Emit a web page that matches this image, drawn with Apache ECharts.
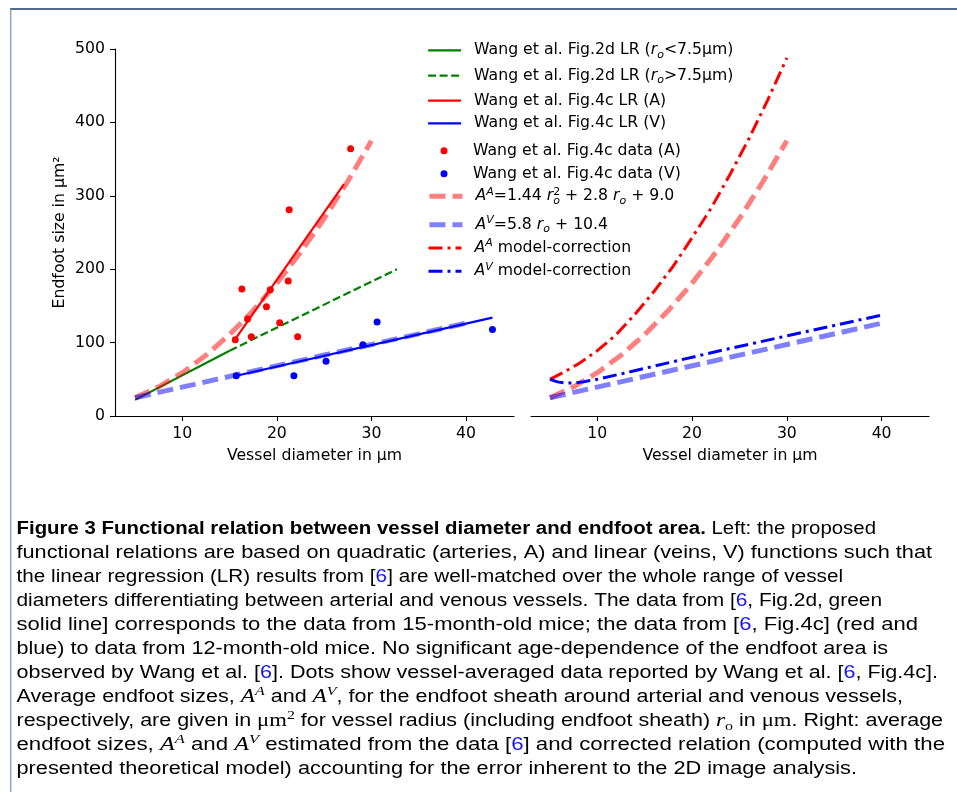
<!DOCTYPE html>
<html><head><meta charset="utf-8">
<script src="https://cdn.jsdelivr.net/npm/echarts@6/dist/echarts.min.js"></script>
<style>html,body{margin:0;padding:0;background:#fff}#c{width:957px;height:792px}</style>
</head><body><div id="c"></div>
<script>
// ---------- data ----------
const xTickValues = [10, 20, 30, 40];
const yTickValues = [0, 100, 200, 300, 400, 500];

// Left panel: Wang et al. linear regressions
const greenSolidX = [5, 15];
const greenSolidY = [22, 89];
const greenDashX = [15, 32.7];
const greenDashY = [89, 200];
const redLRX = [15.5, 27.1];
const redLRY = [103, 316];
const blueLRX = [15.6, 42.8];
const blueLRY = [54.5, 134];

// Wang et al. Fig.4c data points
const redDataX = [27.8, 21.3, 21.2, 19.3, 16.3, 18.9, 16.9, 20.3, 17.3, 22.2, 15.6];
const redDataY = [364, 281, 184, 172, 173, 149, 132, 127, 108, 108, 104];
const blueDataX = [15.7, 21.8, 25.2, 29.1, 30.6, 42.8];
const blueDataY = [55, 55, 74.5, 97, 128, 118];

// Proposed relations
const arterialX = [5, 7.5, 10, 12.5, 15, 17.5, 20, 22.5, 25, 27.5, 30];
const arterialY = [25, 39.8, 59, 82.8, 111, 143.8, 181, 222.8, 269, 319.8, 375];
const venousX = [5, 40];
const venousY = [24.9, 126.4];

// Right panel: model corrections
const corrAX = [5, 6.5, 8, 10, 12, 14, 16, 18, 20, 22, 24, 26, 28, 30];
const corrAY = [50, 60, 71, 89, 111, 139, 170, 204, 243, 283, 329, 378, 431, 488];
const corrVX = [5, 5.8, 6.6, 7.5, 8.5, 10, 12.7, 18, 23.3, 30.3, 40];
const corrVY = [50, 46.5, 44.8, 45, 46.5, 50, 58, 74, 90, 110, 137.5];

// Legend
const seriesNames = [
  'Wang et al. Fig.2d LR (ro<7.5μm)',
  'Wang et al. Fig.2d LR (ro>7.5μm)',
  'Wang et al. Fig.4c LR (A)',
  'Wang et al. Fig.4c LR (V)',
  'Wang et al. Fig.4c data (A)',
  'Wang et al. Fig.4c data (V)',
  'AA=1.44 ro2 + 2.8 ro + 9.0',
  'AV=5.8 ro + 10.4',
  'AA model-correction',
  'AV model-correction'
];
const legendLabels = [
  'Wang et al. Fig.2d LR ({i|r}{sub|o}<7.5μm)',
  'Wang et al. Fig.2d LR ({i|r}{sub|o}>7.5μm)',
  'Wang et al. Fig.4c LR (A)',
  'Wang et al. Fig.4c LR (V)',
  'Wang et al. Fig.4c data (A)',
  'Wang et al. Fig.4c data (V)',
  '{i|A}{sup|A}=1.44 {i|r}{supn|2}{sub|o} + 2.8 {i|r}{sub|o} + 9.0',
  '{i|A}{sup|V}=5.8 {i|r}{sub|o} + 10.4',
  '{i|A}{sup|A} model-correction',
  '{i|A}{sup|V} model-correction'
];
const legendCenters = [47.3, 72.7, 97.7, 120.3, 144.3, 167.3, 193.3, 221.7, 245, 268.3];

// Caption
const captionLines = [
  [['b', 'Figure 3 Functional relation between vessel diameter and endfoot area.'], ['n', ' Left: the proposed']],
  [['n', 'functional relations are based on quadratic (arteries, A) and linear (veins, V) functions such that']],
  [['n', 'the linear regression (LR) results from ['], ['ref', '6'], ['n', '] are well-matched over the whole range of vessel']],
  [['n', 'diameters differentiating between arterial and venous vessels. The data from ['], ['ref', '6'], ['n', ', Fig.2d, green']],
  [['n', 'solid line] corresponds to the data from 15-month-old mice; the data from ['], ['ref', '6'], ['n', ', Fig.4c] (red and']],
  [['n', 'blue) to data from 12-month-old mice. No significant age-dependence of the endfoot area is']],
  [['n', 'observed by Wang et al. ['], ['ref', '6'], ['n', ']. Dots show vessel-averaged data reported by Wang et al. ['], ['ref', '6'], ['n', ', Fig.4c].']],
  [['n', 'Average endfoot sizes, '], ['mi', 'A'], ['msup', 'A'], ['n', ' and '], ['mi', 'A'], ['msup', 'V'], ['n', ', for the endfoot sheath around arterial and venous vessels,']],
  [['n', 'respectively, are given in '], ['mr', 'μm'], ['msupr', '2'], ['n', ' for vessel radius (including endfoot sheath) '], ['mi', 'r'], ['msub', 'o'], ['n', ' in '], ['mr', 'μm'], ['n', '. Right: average']],
  [['n', 'endfoot sizes, '], ['mi', 'A'], ['msup', 'A'], ['n', ' and '], ['mi', 'A'], ['msup', 'V'], ['n', ' estimated from the data ['], ['ref', '6'], ['n', '] and corrected relation (computed with the']],
  [['n', 'presented theoretical model) accounting for the error inherent to the 2D image analysis.']]
];
const captionEnds = [876, 932, 843, 882, 918, 888, 938, 903, 943, 945, 857];

// ---------- build ----------
const zip = (xs, ys) => xs.map((x, i) => [x, ys[i]]);
const AXIS_FONT = 'DejaVu Sans';
const FS = 15.7;
const BLACK = '#000';

function lineSeries(name, xs, ys, color, width, dash, gi, z) {
  return {
    name, type: 'line', xAxisIndex: gi, yAxisIndex: gi, data: zip(xs, ys),
    symbol: 'none', showSymbol: false, silent: true, animation: false, z: z || 2,
    lineStyle: { color, width, type: dash || 'solid', cap: 'butt' },
    itemStyle: { color }
  };
}
function scatterSeries(name, xs, ys, color) {
  return {
    name, type: 'scatter', xAxisIndex: 0, yAxisIndex: 0, data: zip(xs, ys),
    symbol: 'circle', symbolSize: 7, itemStyle: { color, opacity: 1 }, silent: true, animation: false, z: 3
  };
}

const PINK = 'rgba(255,0,0,0.5)';
const LBLUE = 'rgba(0,0,255,0.5)';
const series = [
  lineSeries(seriesNames[0], greenSolidX, greenSolidY, '#008000', 2.2, 'solid', 0),
  lineSeries(seriesNames[1], greenDashX, greenDashY, '#008000', 2.2, [8, 3.5], 0),
  lineSeries(seriesNames[2], redLRX, redLRY, '#ff0000', 2.2, 'solid', 0),
  lineSeries(seriesNames[3], blueLRX, blueLRY, '#0000ff', 2.2, 'solid', 0),
  scatterSeries(seriesNames[4], redDataX, redDataY, '#ff0000'),
  scatterSeries(seriesNames[5], blueDataX, blueDataY, '#0000ff'),
  lineSeries(seriesNames[6], arterialX, arterialY, PINK, 5, [16, 7], 0, 4),
  lineSeries(seriesNames[7], venousX, venousY, LBLUE, 5, [16, 7], 0, 4),
  lineSeries(seriesNames[6], arterialX, arterialY, PINK, 5, [16, 7], 1, 4),
  lineSeries(seriesNames[7], venousX, venousY, LBLUE, 5, [16, 7], 1, 4),
  lineSeries(seriesNames[8], corrAX, corrAY, '#ff0000', 3, [14, 5, 3, 5], 1, 5),
  lineSeries(seriesNames[9], corrVX, corrVY, '#0000ff', 3, [14, 5, 3, 5], 1, 5)
];

const legendRich = {
  i: { fontStyle: 'italic', fontFamily: AXIS_FONT, fontSize: FS },
  sub: { fontStyle: 'italic', fontFamily: AXIS_FONT, fontSize: 11, lineHeight: 11, verticalAlign: 'bottom' },
  sup: { fontStyle: 'italic', fontFamily: AXIS_FONT, fontSize: 11, lineHeight: 11, verticalAlign: 'top' },
  supn: { fontFamily: AXIS_FONT, fontSize: 11, lineHeight: 11, verticalAlign: 'top', width: 0.001 }
};
const legends = seriesNames.map((nm, k) => {
  const isDot = (k === 4 || k === 5);
  const base = {
    data: [nm], padding: 0, orient: 'vertical', selectedMode: false,
    formatter: () => legendLabels[k],
    textStyle: { fontFamily: AXIS_FONT, fontSize: FS, color: BLACK, lineHeight: 20, rich: legendRich }
  };
  if (isDot) {
    return Object.assign(base, {
      left: 440.5, top: legendCenters[k] - 3.5, itemWidth: 7, itemHeight: 7, icon: 'circle',
      textStyle: Object.assign({}, base.textStyle, { padding: [0, 0, 0, 20.5] })
    });
  }
  return Object.assign(base, {
    left: 427, top: legendCenters[k] - 7, itemWidth: 33, itemHeight: 14,
    itemStyle: { opacity: 0 },
    lineStyle: { width: 'inherit' },
    textStyle: Object.assign({}, base.textStyle, { padding: [0, 0, 0, 8] })
  });
});

function xAxisCfg(gi, min, max) {
  return {
    type: 'value', gridIndex: gi, min, max,
    axisLine: { show: true, onZero: false, lineStyle: { color: BLACK, width: 1.1 } },
    axisTick: { show: true, length: 5, lineStyle: { color: BLACK, width: 1.1 }, customValues: xTickValues },
    axisLabel: { customValues: xTickValues, fontFamily: AXIS_FONT, fontSize: FS, color: BLACK, margin: 10 },
    splitLine: { show: false },
    name: 'Vessel diameter in μm', nameLocation: 'middle', nameGap: 32,
    nameTextStyle: { fontFamily: AXIS_FONT, fontSize: FS, color: BLACK }
  };
}

// caption graphics
const SANS = 'Liberation Sans', SERIF = 'Liberation Serif';
const capRich = {
  n: { fontFamily: SANS, fontSize: 17.5, fontWeight: 'normal', fontStyle: 'normal', fill: '#000' },
  b: { fontFamily: SANS, fontSize: 17.5, fontWeight: 'bold', fontStyle: 'normal', fill: '#000' },
  ref: { fontFamily: SANS, fontSize: 17.5, fontWeight: 'normal', fontStyle: 'normal', fill: '#1414ff' },
  mi: { fontFamily: SERIF, fontStyle: 'italic', fontWeight: 'normal', fontSize: 19, fill: '#000' },
  msup: { fontFamily: SERIF, fontStyle: 'italic', fontWeight: 'normal', fontSize: 13, lineHeight: 13, verticalAlign: 'top', fill: '#000' },
  mr: { fontFamily: SERIF, fontStyle: 'normal', fontWeight: 'normal', fontSize: 18.5, fill: '#000' },
  msupr: { fontFamily: SERIF, fontStyle: 'normal', fontWeight: 'normal', fontSize: 13, lineHeight: 13, verticalAlign: 'top', fill: '#000' },
  msub: { fontFamily: SERIF, fontStyle: 'normal', fontWeight: 'normal', fontSize: 13, lineHeight: 13, verticalAlign: 'bottom', fill: '#000' }
};
const mctx = document.createElement('canvas').getContext('2d');
function segWidth(style, text) {
  const s = capRich[style];
  mctx.font = `${s.fontStyle} ${s.fontWeight} ${s.fontSize}px ${s.fontFamily}`;
  return mctx.measureText(text).width;
}
const CAP_LEFT = 16.5;
const captionGraphics = captionLines.map((segs, i) => {
  const w = segs.reduce((a, [st, t]) => a + segWidth(st, t), 0);
  const sx = (captionEnds[i] - CAP_LEFT) / w;
  return {
    type: 'text', x: CAP_LEFT, y: 517 + 24 * i, scaleX: sx, silent: true,
    style: {
      text: segs.map(([st, t]) => `{${st}|${t}}`).join(''),
      rich: capRich, fontFamily: SANS, fontSize: 17.5,
      lineHeight: 24, fill: '#000', verticalAlign: 'top'
    }
  };
});

const borderGraphics = [
  { type: 'line', silent: true, shape: { x1: 10, y1: 9, x2: 957, y2: 9 }, style: { stroke: '#1c3a66', lineWidth: 1.5 } },
  { type: 'line', silent: true, shape: { x1: 10.7, y1: 9, x2: 10.7, y2: 792 }, style: { stroke: '#7d9cc8', lineWidth: 1.3 } }
];

const option = {
  animation: false,
  backgroundColor: '#fff',
  textStyle: { fontFamily: AXIS_FONT },
  grid: [
    { left: 115, top: 49, width: 399, height: 367 },
    { left: 531, top: 49, width: 398, height: 367 }
  ],
  xAxis: [xAxisCfg(0, 2.88, 45.08), xAxisCfg(1, 3.0, 45.0)],
  yAxis: [
    {
      type: 'value', gridIndex: 0, min: 0, max: 500, interval: 100,
      axisLine: { show: true, lineStyle: { color: BLACK, width: 1.1 } },
      axisTick: { show: true, length: 5, lineStyle: { color: BLACK, width: 1.1 } },
      axisLabel: { fontFamily: AXIS_FONT, fontSize: FS, color: BLACK, margin: 10 },
      splitLine: { show: false },
      name: 'Endfoot size in μm²', nameLocation: 'middle', nameGap: 47, nameRotate: 90,
      nameTextStyle: { fontFamily: AXIS_FONT, fontSize: FS, color: BLACK }
    },
    { type: 'value', gridIndex: 1, min: 0, max: 500, show: false }
  ],
  legend: legends,
  series,
  graphic: borderGraphics.concat(captionGraphics)
};
const chart = echarts.init(document.getElementById('c'), null, { renderer: 'canvas' });
chart.setOption(option);
</script></body></html>
